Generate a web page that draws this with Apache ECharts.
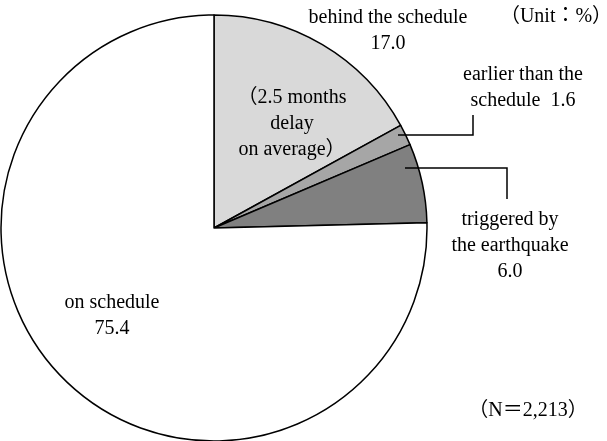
<!DOCTYPE html>
<html>
<head>
<meta charset="utf-8">
<script src="https://cdn.jsdelivr.net/npm/echarts@6/dist/echarts.min.js"></script>
<style>
  html, body { margin: 0; padding: 0; background: #fff; }
  #chart { width: 607px; height: 441px; }
</style>
</head>
<body>
<div id="chart"></div>
<script>
// Share of projects by schedule status (%), clockwise from 12 o'clock
const categories = ['behind the schedule', 'earlier than the schedule', 'triggered by the earthquake', 'on schedule'];
const values = [17.0, 1.6, 6.0, 75.4];
const sliceColors = ['#d9d9d9', '#a6a6a6', '#808080', '#ffffff'];

const serif = '"Liberation Serif", "Times New Roman", "Noto Sans CJK JP", serif';
const fontSize = 20;

function txt(x, y, lines) {
  return {
    type: 'text', x: x, y: y, z: 100,
    style: {
      text: lines.join('\n'), fill: '#000', font: fontSize + 'px ' + serif,
      align: 'center', verticalAlign: 'middle', lineHeight: 26
    }
  };
}
function leader(points) {
  return { type: 'polyline', z: 100, shape: { points: points }, style: { stroke: '#000', lineWidth: 1.5, fill: null } };
}

const chart = echarts.init(document.getElementById('chart'));
chart.setOption({
  backgroundColor: '#fff',
  animation: false,
  series: [{
    type: 'pie',
    center: [214, 228],
    radius: [0, 213],
    startAngle: 90,
    clockwise: true,
    z: 1,
    label: { show: false },
    labelLine: { show: false },
    emphasis: { disabled: true },
    itemStyle: { borderColor: '#000', borderWidth: 1.5 },
    data: categories.map((c, i) => ({ name: c, value: values[i], itemStyle: { color: sliceColors[i] } }))
  }],
  graphic: [
    txt(388, 31, ['behind the schedule', values[0].toFixed(1)]),
    txt(292, 124, ['（2.5 months', 'delay', 'on average）']),
    txt(523, 88, ['earlier than the', 'schedule  ' + values[1].toFixed(1)]),
    txt(510, 246, ['triggered by', 'the earthquake', values[2].toFixed(1)]),
    txt(112, 316, ['on schedule', values[3].toFixed(1)]),
    txt(556, 17, ['（Unit：%）']),
    txt(528, 411, ['（N＝2,213）']),
    leader([[398, 135], [473, 135], [473, 115]]),
    leader([[405, 168], [507, 168], [507, 199]])
  ]
});
</script>
</body>
</html>
